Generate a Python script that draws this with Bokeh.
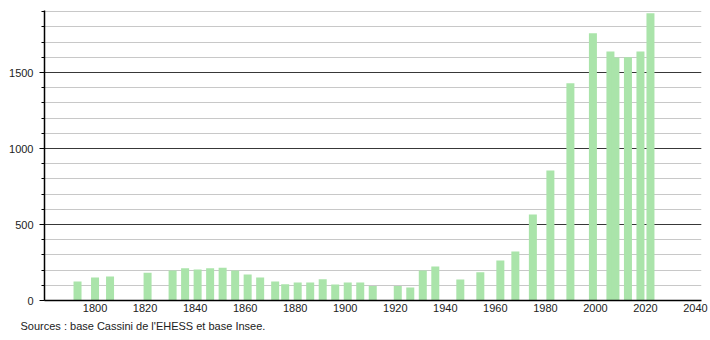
from bokeh.plotting import figure
from bokeh.models import Range1d, FixedTicker, Title, ColumnDataSource
from bokeh.embed import file_html
from bokeh.resources import INLINE

years = [1793, 1800, 1806, 1821, 1831, 1836, 1841, 1846, 1851, 1856,
         1861, 1866, 1872, 1876, 1881, 1886, 1891, 1896, 1901, 1906,
         1911, 1921, 1926, 1931, 1936, 1946, 1954, 1962, 1968, 1975,
         1982, 1990, 1999, 2006, 2008, 2013, 2018, 2022]
population = [125, 151, 158, 182, 197, 213, 204, 213, 215, 197,
              171, 151, 125, 107, 118, 118, 140, 105, 118, 118,
              96, 96, 86, 197, 224, 138, 186, 263, 322, 566,
              855, 1430, 1759, 1638, 1598, 1601, 1638, 1890]

x_ticks = [1800, 1820, 1840, 1860, 1880, 1900, 1920, 1940, 1960, 1980, 2000, 2020, 2040]
y_ticks = [0, 500, 1000, 1500]
y_minor = list(range(0, 2000, 100))
source_text = "Sources : base Cassini de l'EHESS et base Insee."

src = ColumnDataSource(data=dict(year=years, pop=population))

p = figure(width=710, height=340, output_backend="svg", toolbar_location=None,
           x_range=Range1d(1779.8, 2042.4), y_range=Range1d(0, 1908),
           min_border_left=44, min_border_right=9, min_border_top=10,
           min_border_bottom=40)
p.outline_line_color = None
p.background_fill_color = "white"
p.border_fill_color = "white"

p.vbar(x="year", top="pop", bottom=0, width=3.2, source=src,
       fill_color="#aae4aa", line_color=None)

# x axis
p.xaxis.ticker = FixedTicker(ticks=x_ticks)
p.xaxis.major_tick_line_color = None
p.xaxis.minor_tick_line_color = None
p.xaxis.major_tick_out = 0
p.xaxis.major_label_standoff = 3
p.xaxis.axis_line_color = "black"
p.xaxis.axis_line_width = 1.5

# y axis
p.yaxis.ticker = FixedTicker(ticks=y_ticks, minor_ticks=y_minor)
p.yaxis.major_tick_out = 5
p.yaxis.major_tick_in = 0
p.yaxis.minor_tick_out = 3
p.yaxis.minor_tick_in = 0
p.yaxis.major_tick_line_color = "black"
p.yaxis.minor_tick_line_color = "black"
p.yaxis.axis_line_color = "black"
p.yaxis.axis_line_width = 1.5
p.yaxis.major_label_standoff = 6

for ax in (p.xaxis, p.yaxis):
    ax.major_label_text_font = "Liberation Sans"
    ax.major_label_text_font_size = "11px"
    ax.major_label_text_color = "#222222"

p.xgrid.grid_line_color = None
p.ygrid.grid_line_color = "#383838"
p.ygrid.grid_line_width = 1
p.ygrid.minor_grid_line_color = "#c8c8c8"
p.ygrid.minor_grid_line_width = 1

t = Title(text=source_text, align="left", offset=-24, text_font="Liberation Sans",
          text_font_size="11px", text_font_style="normal", text_color="#222222",
          standoff=6)
p.add_layout(t, "below")

open("out.html", "w").write(file_html(p, INLINE))
